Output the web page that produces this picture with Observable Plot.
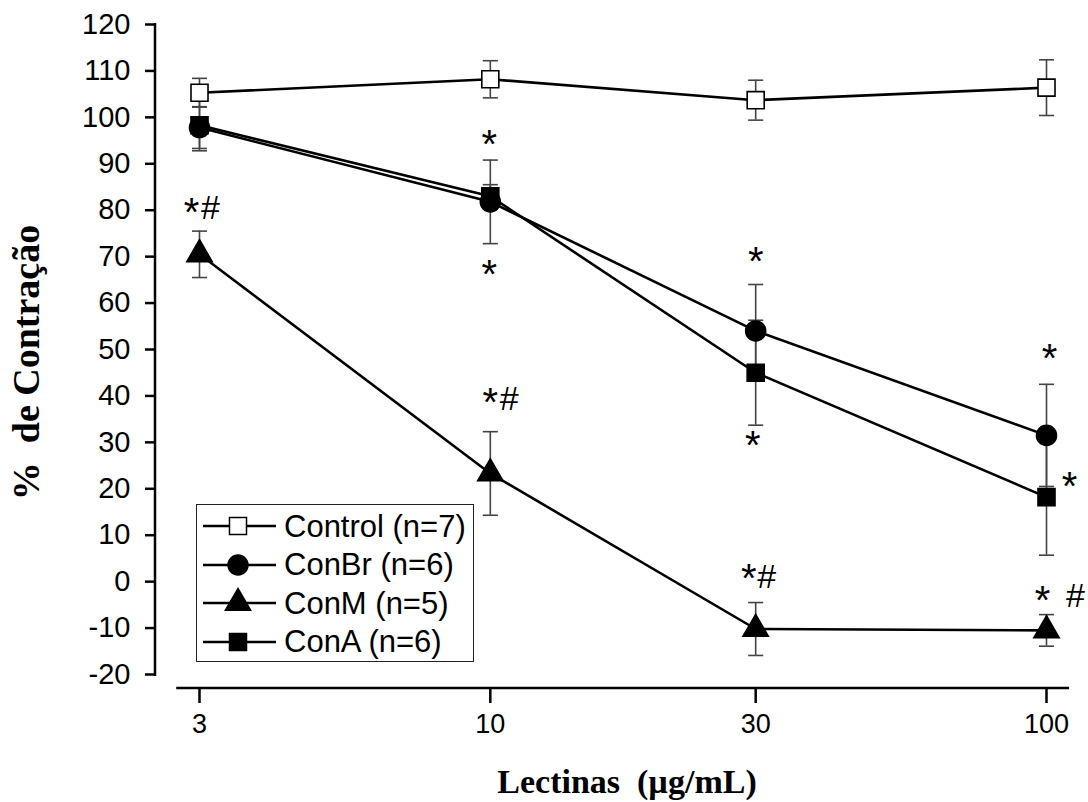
<!DOCTYPE html>
<html>
<head>
<meta charset="utf-8">
<script src="https://cdn.jsdelivr.net/npm/d3@7"></script>
<script src="https://cdn.jsdelivr.net/npm/@observablehq/plot@0.6"></script>
<style>
  html, body { margin: 0; padding: 0; background: #fff; }
  #wrap { position: relative; width: 1088px; height: 802px; }
  #legend { position: absolute; left: 196px; top: 504px; width: 278px; height: 158px;
    box-sizing: border-box; border: 1.5px solid #222; background: #fff;
    font-family: "Liberation Sans", Arial, sans-serif; font-size: 31px; color: #000; padding-top: 2px; }
  #legend .row { display: flex; align-items: center; height: 38.5px; }
  #legend svg { flex: none; }
  #legend span { margin-left: 5px; white-space: nowrap; line-height: 1; }
</style>
</head>
<body>
<div id="wrap"><div id="legend"></div></div>
<script>
// ---- data ----
const doses = [3, 10, 30, 100];
const seriesNames = ["Control", "ConBr", "ConM", "ConA"];
const seriesN = [7, 6, 5, 6];
const controlMean = [105.3, 108.2, 103.7, 106.4];
const controlErr  = [3.1, 4.0, 4.3, 6.0];
const conBrMean = [97.8, 81.8, 54.0, 31.5];
const conBrErr  = [4.5, 9.0, 10.0, 11.0];
const conMMean  = [70.5, 23.3, -10.2, -10.5];
const conMErr   = [5.0, 9.0, 5.7, 3.4];
const conAMean  = [98.3, 83.0, 45.0, 18.2];
const conAErr   = [5.5, 2.5, 11.3, 12.5];
const yTicks = [-20, -10, 0, 10, 20, 30, 40, 50, 60, 70, 80, 90, 100, 110, 120];
// significance marks: dose, height (in % units), glyph, horizontal nudge (px)
const annDose  = [3, 3, 10, 10, 10, 10, 30, 30, 30, 30, 100, 100, 100, 100];
const annY     = [80.6, 80.6, 95.4, 67.4, 39.7, 39.5, 70.2, 30.4, 1.8, 1.1, 49.1, 21.6, -3.0, -2.8];
const annLabel = ["*", "#", "*", "*", "*", "#", "*", "*", "*", "#", "*", "*", "*", "#"];
const annDx    = [-8, 11, -1, -1, 0, 19, 0, -3, -7, 11, 3, 23, -4, 29];

const meansBySeries = [controlMean, conBrMean, conMMean, conAMean];
const errsBySeries = [controlErr, conBrErr, conMErr, conAErr];
const symbols = ["square", "circle", "triangle", "square"];
const fills = ["white", "black", "black", "black"];
const symR = [9.6, 10, 9.4, 9.6];

const rows = [];
seriesNames.forEach((s, i) => doses.forEach((d, j) => rows.push({
  series: s, dose: d, mean: meansBySeries[i][j], err: errsBySeries[i][j]
})));
const anns = annDose.map((d, i) => ({dose: d, y: annY[i], label: annLabel[i], dx: annDx[i]}));

const yDomain = [-20, 120];
const xAxisExtent = [2.73, 110];

const capSymbol = { draw(ctx, size) { const w = Math.sqrt(size) / 2; ctx.moveTo(-w, 0); ctx.lineTo(w, 0); } };

const axisLines = (index, scales, values, dims) => {
  const g = d3.create("svg:g").attr("stroke", "black").attr("stroke-width", 2.5).attr("fill", "none");
  g.append("line")
    .attr("x1", dims.marginLeft).attr("x2", dims.marginLeft)
    .attr("y1", scales.y(yDomain[1]) - 1).attr("y2", scales.y(yDomain[0]) + 2);
  const yb = dims.height - dims.marginBottom;
  g.append("line")
    .attr("x1", scales.x(xAxisExtent[0])).attr("x2", scales.x(xAxisExtent[1]))
    .attr("y1", yb).attr("y2", yb);
  return g.node();
};

const serif = "'Liberation Serif', 'Times New Roman', serif";

const plot = Plot.plot({
  width: 1088,
  height: 802,
  marginLeft: 155,
  marginRight: 18,
  marginTop: 24,
  marginBottom: 114,
  style: { fontFamily: "'Liberation Sans', Arial, sans-serif", color: "black", background: "white" },
  x: { type: "log", domain: [3, 100], range: [199, 1046] },
  y: { domain: yDomain, range: [674, 24] },
  marks: [
    Plot.axisY({ ticks: yTicks, tickSize: 10, tickPadding: 15, fontSize: 29, strokeWidth: 2.5, label: null, tickFormat: d => String(d) }),
    Plot.axisX({ ticks: doses, tickSize: 15, tickPadding: 10, fontSize: 27, strokeWidth: 2.5, label: null, tickFormat: d => String(d) }),
    axisLines,
    Plot.text(["Lectinas  (µg/mL)"], { frameAnchor: "bottom", textAnchor: "middle", lineAnchor: "middle", dx: 14, dy: 94, fontSize: 34, fontWeight: "bold", fontFamily: serif }),
    Plot.text(["%  de Contração"], { frameAnchor: "left", textAnchor: "middle", lineAnchor: "middle", rotate: -90, dx: -129, dy: 6, fontSize: 38, fontWeight: "bold", fontFamily: serif }),
    Plot.line(rows, { x: "dose", y: "mean", z: "series", stroke: "black", strokeWidth: 2.6 }),
    Plot.ruleX(rows, { x: "dose", y1: d => d.mean - d.err, y2: d => d.mean + d.err, stroke: "#444", strokeWidth: 1.6 }),
    Plot.dot(rows, { x: "dose", y: d => d.mean - d.err, symbol: capSymbol, r: 8.5, stroke: "#444", strokeWidth: 1.6 }),
    Plot.dot(rows, { x: "dose", y: d => d.mean + d.err, symbol: capSymbol, r: 8.5, stroke: "#444", strokeWidth: 1.6 }),
    ...seriesNames.map((s, i) => Plot.dot(rows.filter(d => d.series === s), {
      x: "dose", y: "mean", symbol: symbols[i], r: symR[i], fill: fills[i], stroke: "black", strokeWidth: 1.6
    })),
    ...anns.map(a => Plot.text([a], {
      x: "dose", y: "y", text: "label", dx: a.dx,
      dy: a.label === "*" ? 6 : 1, fontSize: a.label === "*" ? 40 : 34
    }))
  ]
});
document.getElementById("wrap").prepend(plot);

// legend (HTML overlay inside the plot area)
const legend = d3.select("#legend");
seriesNames.forEach((s, i) => {
  const row = legend.append("div").attr("class", "row");
  const svg = row.append("svg").attr("width", 82).attr("height", 38);
  svg.append("line").attr("x1", 6).attr("x2", 79).attr("y1", 19).attr("y2", 19).attr("stroke", "black").attr("stroke-width", 2.6);
  const typ = { square: d3.symbolSquare, circle: d3.symbolCircle, triangle: d3.symbolTriangle }[symbols[i]];
  svg.append("path").attr("transform", "translate(41,19)")
    .attr("d", d3.symbol(typ, Math.PI * symR[i] * symR[i])())
    .attr("fill", fills[i]).attr("stroke", "black").attr("stroke-width", 1.5);
  row.append("span").text(`${s} (n=${seriesN[i]})`);
});
</script>
</body>
</html>
